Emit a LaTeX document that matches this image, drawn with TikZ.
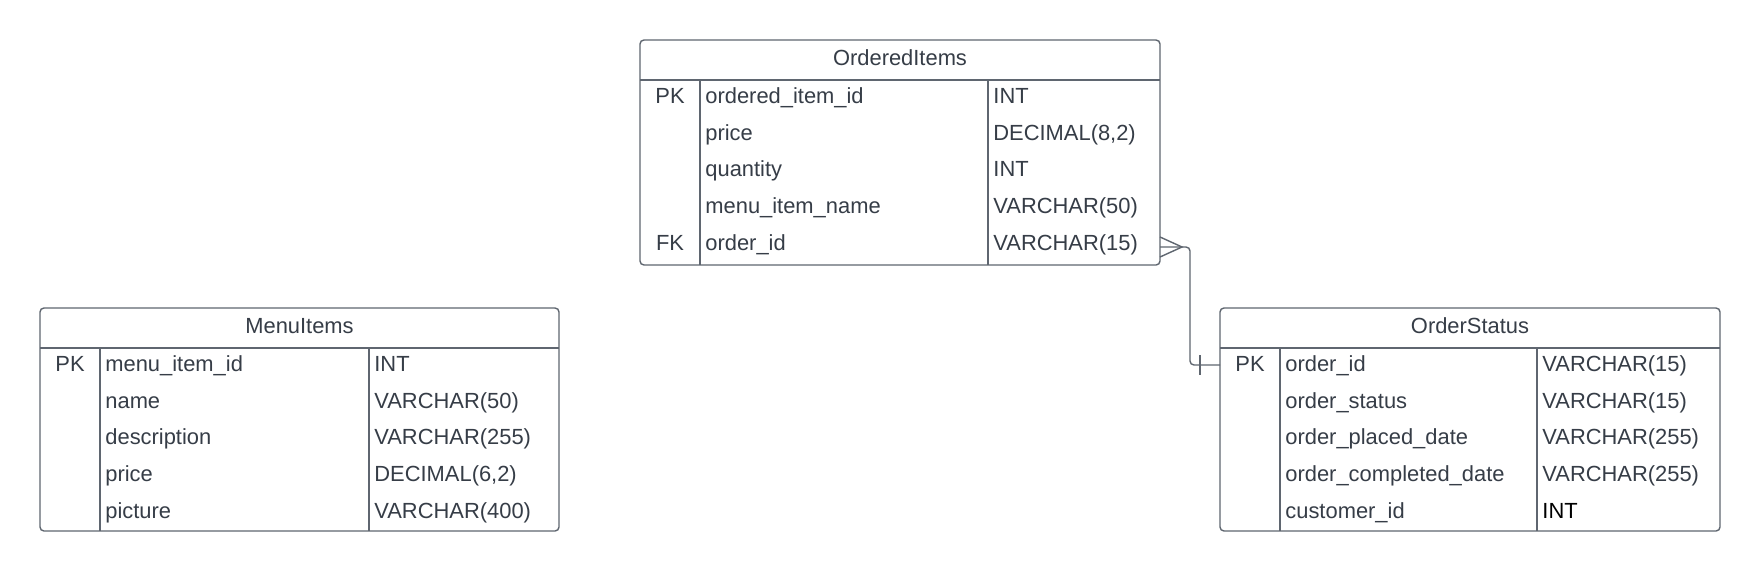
\documentclass[tikz,border=0pt]{standalone}
\usepackage{fontspec}
\setmainfont{Liberation Sans}

\definecolor{textgray}{HTML}{363D47}
\definecolor{linegray}{HTML}{5F6670}

\newcommand{\erdframe}[6]
{
    \draw [tableline, rounded corners=2pt] (#1,#2) rectangle (#3,#4);
    \draw [tableline] (#1,#2+40) -- (#3,#2+40);
    \draw [tableline] (#5,#2+40) -- (#5,#4);
    \draw [tableline] (#6,#2+40) -- (#6,#4);
}

\begin{document}
\begin{tikzpicture}[x=0.5pt,y=-0.5pt,
    tableline/.style={draw=linegray,line width=0.7pt},
    cell/.style={inner sep=0,text=textgray,font=\fontsize{10.95}{13}\selectfont},
    fieldcell/.style={cell,anchor=base west},
    keycell/.style={cell,anchor=base},
    relline/.style={draw=linegray,line width=0.7pt}]

\fill [white] (0,0) rectangle (1760,573);

% ordered items

\erdframe{640}{40}{1160}{265}{700}{988}
\node (oiTitle) [keycell] at (900,65) {OrderedItems};
\node (oiKey1) [keycell] at (670,103.5) {PK};
\node (oiKey5) [keycell] at (670,250.3) {FK};

\foreach \field/\ftype [count=\i] in {
  ordered\_item\_id/INT,
  price/{DECIMAL(8,2)},
  quantity/INT,
  menu\_item\_name/VARCHAR(50),
  order\_id/VARCHAR(15)}
{
    \node (oiField\i) [fieldcell] at (705,{103.5+(\i-1)*36.7}) {\field};
    \node (oiType\i) [fieldcell] at (993,{103.5+(\i-1)*36.7}) {\ftype};
}

% menu items

\erdframe{40}{308}{559}{531}{100}{369}
\node (miTitle) [keycell] at (299.5,333) {MenuItems};
\node (miKey1) [keycell] at (70,371.5) {PK};

\foreach \field/\ftype [count=\i] in {
  menu\_item\_id/INT,
  name/VARCHAR(50),
  description/VARCHAR(255),
  price/{DECIMAL(6,2)},
  picture/VARCHAR(400)}
{
    \node (miField\i) [fieldcell] at (105,{371.5+(\i-1)*36.7}) {\field};
    \node (miType\i) [fieldcell] at (374,{371.5+(\i-1)*36.7}) {\ftype};
}

% order status

\erdframe{1220}{308}{1720}{531}{1280}{1537}
\node (osTitle) [keycell] at (1470,333) {OrderStatus};
\node (osKey1) [keycell] at (1250,371.5) {PK};

\foreach \field/\ftype/\tcol [count=\i] in {
  order\_id/VARCHAR(15)/textgray,
  order\_status/VARCHAR(15)/textgray,
  order\_placed\_date/VARCHAR(255)/textgray,
  order\_completed\_date/VARCHAR(255)/textgray,
  customer\_id/INT/black}
{
    \node (osField\i) [fieldcell] at (1285,{371.5+(\i-1)*36.7}) {\field};
    \node (osType\i) [fieldcell,text=\tcol] at (1542,{371.5+(\i-1)*36.7}) {\ftype};
}

% relationship

\coordinate (fkEnd) at (1160,247);
\coordinate (crowTip) at (1182,247);
\coordinate (pkEnd) at (1220,365);
\coordinate (pkBar) at (1200,365);

\draw [relline,rounded corners=2pt] (fkEnd) -- ++(30,0) |- (pkEnd);
\draw [relline] ([shift={(0,-10)}]fkEnd) -- (crowTip) -- ([shift={(0,10)}]fkEnd);
\draw [relline] (pkBar) ++(0,-10) -- ++(0,20);

\end{tikzpicture}
\end{document}
